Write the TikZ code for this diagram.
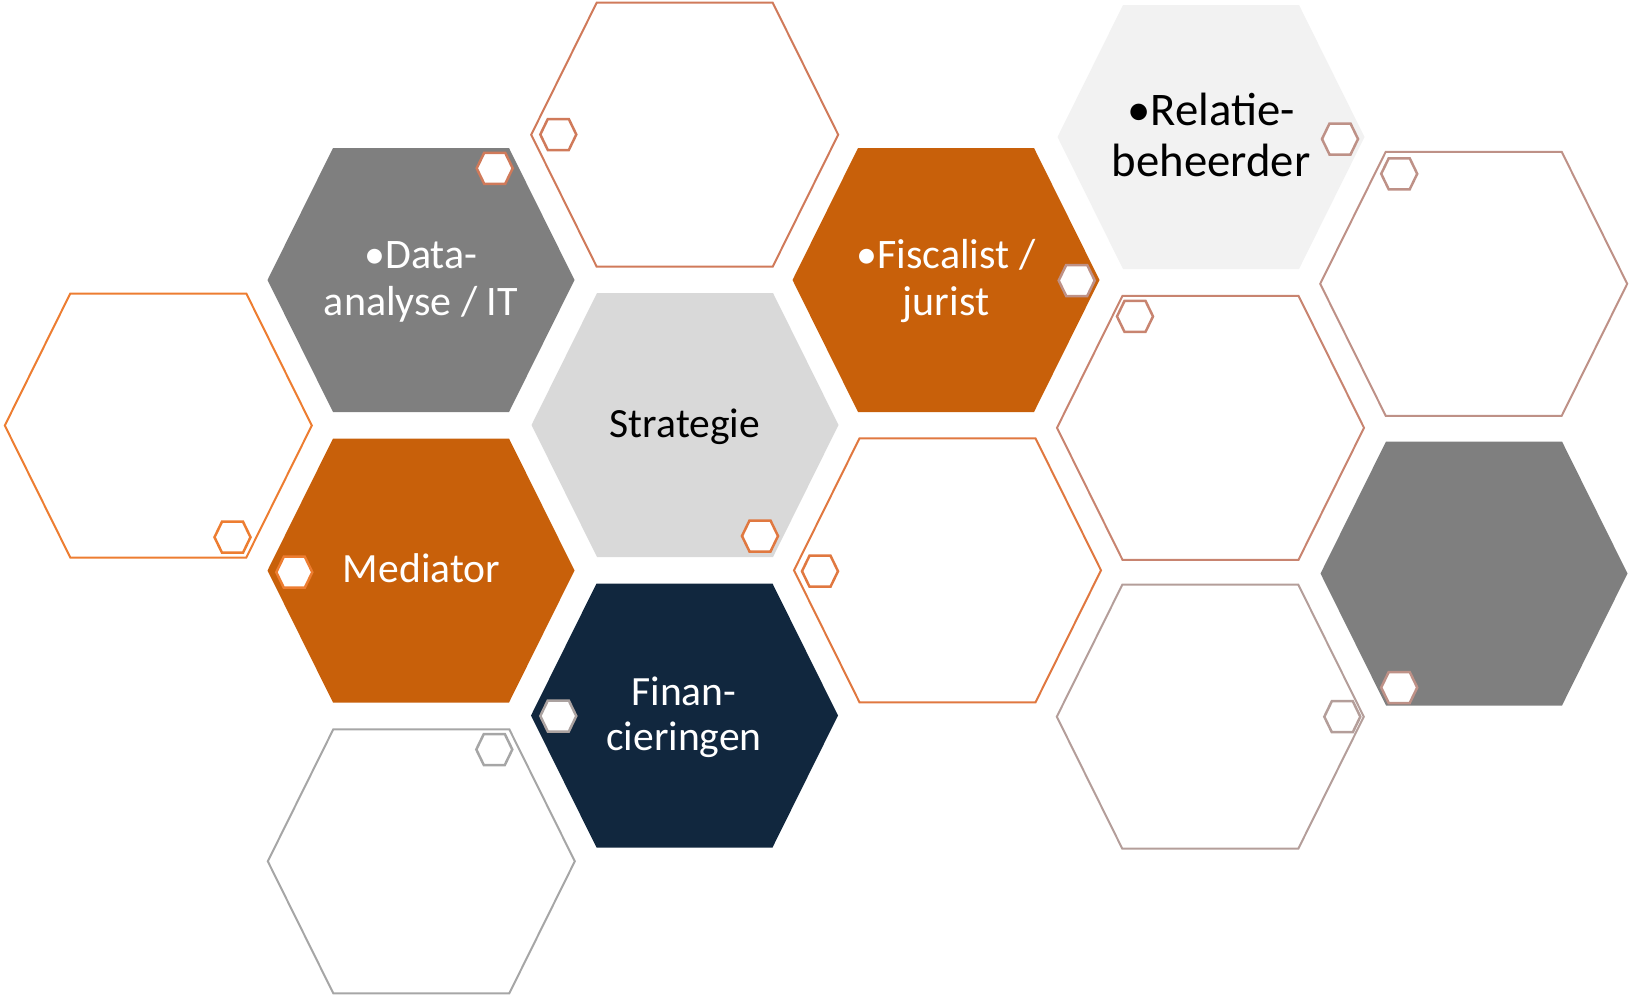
\documentclass[tikz,border=0pt]{standalone}
\usepackage{fontspec}
\setmainfont{Carlito}
% fills
\definecolor{hexgrey}{RGB}{127,127,127}
\definecolor{hexorange}{RGB}{200,96,10}
\definecolor{hexlight}{RGB}{217,217,217}
\definecolor{hexpale}{RGB}{242,242,242}
\definecolor{hexnavy}{RGB}{17,39,62}
% outlines
\definecolor{lnorange}{RGB}{237,125,49}
\definecolor{lnrust}{RGB}{208,122,90}
\definecolor{lncopper}{RGB}{224,120,64}
\definecolor{lnclay}{RGB}{200,132,112}
\definecolor{lnrose}{RGB}{190,145,135}
\definecolor{lnmauve}{RGB}{180,158,154}
\definecolor{lngrey}{RGB}{166,166,166}
\begin{document}
\begin{tikzpicture}[x=1pt,y=-1pt,
  hexbig/.pic={\path[pic actions] (-153.5,0) -- (-88,-132) -- (88,-132) -- (153.5,0) -- (88,132) -- (-88,132) -- cycle;},
  hexsmall/.pic={\path[pic actions] (-18,0) -- (-10.5,-15.5) -- (10.5,-15.5) -- (18,0) -- (10.5,15.5) -- (-10.5,15.5) -- cycle;},
  tile/.style={fill=#1},
  rimhex/.style={draw=#1, line width=2pt, line join=miter},
  knob/.style={draw=#1, fill=white, line width=2.5pt, line join=miter},
  knobopen/.style={draw=#1, line width=2.5pt, line join=miter},
  hextext/.style={align=center, anchor=base, inner sep=0pt, font=\fontsize{41.6}{47}\selectfont}
]
\path[use as bounding box] (0,0) rectangle (1632,1001);

% filled tiles
\pic (data)  [tile=hexgrey]   at (421,280)    {hexbig};
\pic (fisc)  [tile=hexorange] at (946,280)    {hexbig};
\pic (rel)   [tile=hexpale]   at (1211,137)   {hexbig};
\pic (strat) [tile=hexlight]  at (685,425)    {hexbig};
\pic (med)   [tile=hexorange] at (421,570.5)  {hexbig};
\pic (fin)   [tile=hexnavy]   at (684.5,715.5){hexbig};
\pic (grey)  [tile=hexgrey]   at (1474,573.5) {hexbig};

% outlined tiles
\pic (oleft)  [rimhex=lnorange] at (158.3,425.5) {hexbig};
\pic (otop)   [rimhex=lnrust]   at (684.7,134.7) {hexbig};
\pic (omid)   [rimhex=lncopper] at (947.5,570.3) {hexbig};
\pic (oclay)  [rimhex=lnclay]   at (1210.5,427.8){hexbig};
\pic (oright) [rimhex=lnrose]   at (1473.7,283.8){hexbig};
\pic (omauve) [rimhex=lnmauve]  at (1210.3,716.7){hexbig};
\pic (obot)   [rimhex=lngrey]   at (421.3,861.3) {hexbig};

% small hexagons
\pic (k1)  [knob=lnrust]      at (494.7,168.3) {hexsmall};
\pic (k2)  [knobopen=lnrust]  at (558.3,134.5) {hexsmall};
\pic (k3)  [knob=lnrose]      at (1076.7,280.5){hexsmall};
\pic (k4)  [knob=lnrose]      at (1340,139)    {hexsmall};
\pic (k5)  [knobopen=lnrose]  at (1399.2,173.8){hexsmall};
\pic (k6)  [knobopen=lnorange]at (232.5,537.2) {hexsmall};
\pic (k7)  [knob=lncopper]    at (760,536)     {hexsmall};
\pic (k8)  [knob=lnorange]    at (294.3,572.2) {hexsmall};
\pic (k9)  [knobopen=lncopper]at (820,571.2)   {hexsmall};
\pic (k10) [knob=lngrey!80!lnrose] at (558.3,716) {hexsmall};
\pic (k11) [knobopen=lnclay]  at (1135,316.4)  {hexsmall};
\pic (k12) [knob=lnrose]      at (1399.2,687.5){hexsmall};
\pic (k13) [knobopen=lnmauve] at (1342.3,716.7){hexsmall};
\pic (k14) [knobopen=lngrey]  at (494.3,749.5) {hexsmall};

% labels (base anchor sits on the last line)
\node (tdata)  [hextext, text=white, font=\fontsize{42}{47}\selectfont] at (421,315) {•Data-\\analyse / IT};
\node (tfisc)  [hextext, text=white, font=\fontsize{42}{47}\selectfont] at (946,315) {•Fiscalist /\\jurist};
\node (trel)   [hextext, text=black, font=\fontsize{46.7}{51}\selectfont] at (1211,176) {•Relatie-\\beheerder};
\node (tstrat) [hextext, text=black] at (685,437) {Strategie};
\node (tmed)   [hextext, text=white] at (421.5,582.7) {Mediator};
\node (tfin)   [hextext, text=white, font=\fontsize{41.6}{45.7}\selectfont] at (684,750.7) {Finan-\\cieringen};
\end{tikzpicture}
\end{document}
